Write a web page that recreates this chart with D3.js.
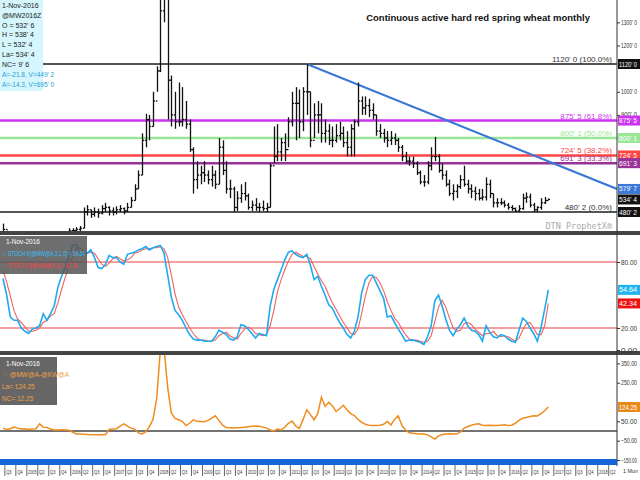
<!DOCTYPE html>
<html>
<head>
<meta charset="utf-8">
<script src="https://cdn.jsdelivr.net/npm/d3@7"></script>
<style>
  body { margin: 0; background: #fff; }
  svg { font-family: "Liberation Sans Narrow", "Liberation Sans", Arial, sans-serif; }
</style>
</head>
<body>
<div id="chart"></div>
<script>
// monthly bars, Jun 2004 .. Nov 2016
const highs = [430,400,380,370,370,375,380,
  385,380,390,380,375,375,380,380,385,390,395,410,
  410,415,420,500,510,490,500,495,510,520,505,500,
  505,510,500,520,545,600,660,820,905,900,1000,1110,
  1500,2500,2000,1070,1000,1040,1020,960,880,760,700,680,
  700,660,680,660,800,790,700,620,590,570,600,610,
  560,530,540,520,530,520,690,850,860,800,820,890,
  1000,1020,1010,1020,1120,1000,950,960,950,880,860,850,
  860,870,850,830,860,880,1040,980,980,970,950,900,
  860,840,830,830,820,800,770,740,720,720,700,660,
  640,700,760,805,730,690,660,620,600,600,640,680,
  620,600,590,580,580,630,620,560,540,540,530,520,
  510,500,510,560,565,560,520,505,540,545,538.5];
const lows = [395,360,350,345,345,355,360,
  360,355,360,350,345,350,355,355,360,365,370,380,
  385,395,395,410,465,455,460,455,470,480,465,465,
  470,480,470,480,500,530,580,640,760,790,850,1000,
  1085,1300,880,850,840,850,850,840,740,560,580,600,
  610,600,590,580,600,640,560,540,480,485,520,530,
  490,485,485,480,485,480,500,690,700,700,700,760,
  850,790,800,830,900,760,800,820,780,780,770,760,
  780,790,760,720,720,720,850,900,900,890,880,810,
  800,780,760,770,770,740,700,690,680,670,640,600,
  590,600,660,700,650,620,590,550,530,540,580,590,
  560,540,530,530,530,530,540,500,500,510,500,490,
  485,480,480,490,520,500,480,480,490,515,532.5];
const closes = [405,370,355,355,365,370,370,
  370,365,375,360,355,360,365,360,375,380,385,400,
  400,405,410,480,490,470,480,475,495,500,485,480,
  490,495,485,500,530,580,640,790,880,850,960,1090,
  1350,1800,1050,900,870,870,880,860,750,620,640,650,
  640,620,640,600,760,660,580,580,500,540,560,550,
  500,510,500,500,495,500,680,720,740,780,750,870,
  950,950,870,1000,1000,790,900,900,820,830,790,790,
  810,820,780,760,840,870,960,930,940,920,900,830,
  820,800,790,800,790,760,720,700,700,690,650,610,
  610,680,720,720,660,640,600,560,570,590,620,600,
  580,570,560,540,545,600,560,520,520,520,510,500,
  495,485,495,540,545,510,490,500,520,530,534.5];

const stochK = [65,50,30,27,27,20,17,15,19,20,22,33,27,33,40,57,67,75,86,95,
  96,88,87,88,91,84,75,74,78,86,84,84,80,78,87,88,89,91,92,94,
  91,93,94,95,88,68,48,36,32,27,20,14,10,9,9,8,8,8,12,18,
  16,14,10,9,12,23,22,19,15,11,15,14,13,40,55,64,73,82,89,90,
  87,85,84,87,77,64,67,58,50,41,38,31,25,20,14,11,17,30,52,64,
  68,68,61,54,47,30,31,25,19,14,8,9,9,8,7,5,12,22,45,50,
  40,28,18,13,19,23,29,22,18,17,14,8,22,16,12,11,14,13,10,8,
  7,18,29,26,20,15,8,20,37,54.64];
const stochD = [72,62,49,36,28,25,21,17,17,18,20,25,27,31,33,43,55,66,76,85,
  92,93,90,88,89,88,83,78,76,79,83,85,83,81,82,84,88,89,91,92,
  92,93,93,94,92,84,68,51,39,32,26,20,15,11,9,9,8,8,9,13,
  15,16,13,11,10,15,19,21,19,15,14,13,14,22,36,53,64,73,81,87,
  89,87,85,85,83,76,69,63,58,50,43,37,31,25,20,15,14,19,33,49,
  61,67,66,61,54,44,36,29,25,19,14,10,9,9,8,7,8,13,26,39,
  45,39,29,20,17,18,24,25,23,19,16,13,15,15,17,13,12,13,12,10,
  8,11,18,24,25,20,14,14,22,42.34];
// @MW@A - @KW@A spread
const spread = [15,8,12,20,15,10,12,8,10,12,
  37,20,18,10,5,5,6,5,4,-5,
  -15,-16,-17,-18,-20,-20,-20,-20,-19,8,
  10,12,25,37,25,15,10,-10,-15,-5,
  23,60,170,420,430,224,93,65,58,50,
  28,40,58,50,49,48,55,65,79,55,
  30,18,17,16,17,18,20,22,24,26,
  24,20,15,5,0,10,5,20,40,52,
  25,14,60,110,85,58,90,175,128,149,
  130,101,115,133,110,90,80,60,45,35,
  30,28,28,30,35,49,31,60,79,28,
  5,-9,-12,-14,-16,-16,-20,-30,-42,-25,
  -18,-16,-14,-16,-16,-5,15,23,30,35,
  37,30,28,30,28,28,30,32,28,30,
  40,55,66,70,75,79,78,90,105,124.25];

const levels = [1120, 875.625, 800.125, 724.625, 691.375, 480.25];
const levelPct = ["100.0%", "61.8%", "50.0%", "38.2%", "33.3%", "0.0%"];
const levelColors = ["#555", "#cc33ee", "#99e699", "#ff4444", "#993399", "#555"];
const trendStart = [83, 1120];      // month index, price
const trendEndPrice = 579.875;      // value at right edge
const priceTicks = [900, 1000, 1200, 1300];
const stochTicks = [0, 20, 80];
const spreadTicks = [-150, -50, 50, 250, 350];
const years = d3.range(2004, 2020);
const legendLines = ["1-Nov-2016", "@MW2016Z", "O = 532' 6", "H = 538' 4", "L = 532' 4", "La= 534' 4", "NC= 9' 6"];
const legendBlue = ["A=-21.8, V=449' 2", "A=-14.3, V=695' 0"];

const W = 640, H = 480, plotR = 617;
const svg = d3.select("#chart").append("svg").attr("width", W).attr("height", H);

const x = d3.scaleLinear().domain([0, 149]).range([3, 548.3]);
const yP = d3.scaleLinear().domain([480.25, 1120]).range([212, 64]);
const yS = d3.scaleLinear().domain([0, 80]).range([350, 262]);
const ySp = d3.scaleLinear().domain([0, 124.25]).range([431, 407]);
const iEnd = x.invert(plotR);

const fmt8 = v => { const w = Math.floor(v); return `${w}' ${Math.round((v - w) * 8)}`; };

const defs = svg.append("defs");
[["c1", 0, 232], ["c2", 235, 116], ["c3", 355, 103]].forEach(([id, y0, h]) => {
  defs.append("clipPath").attr("id", id).append("rect").attr("x", 0).attr("y", y0).attr("width", plotR).attr("height", h);
});

// ---------- price panel ----------
const p1 = svg.append("g").attr("clip-path", "url(#c1)");
levels.forEach((lv, k) => {
  p1.append("line").attr("x1", 0).attr("x2", plotR).attr("y1", yP(lv)).attr("y2", yP(lv))
    .attr("stroke", levelColors[k]).attr("stroke-width", k === 0 || k === 5 ? 2 : 2.5);
  p1.append("text").attr("x", 612).attr("y", yP(lv) - 2).attr("text-anchor", "end")
    .attr("font-size", 8).attr("fill", k === 0 || k === 5 ? "#333" : levelColors[k])
    .text(`${fmt8(lv)} (${levelPct[k]})`);
});
p1.append("line")
  .attr("x1", x(trendStart[0])).attr("y1", yP(trendStart[1]))
  .attr("x2", x(iEnd)).attr("y2", yP(trendEndPrice))
  .attr("stroke", "#3a78d8").attr("stroke-width", 2);

const bars = p1.append("g").attr("stroke", "#111").attr("stroke-width", 1.3);
highs.forEach((h, i) => {
  const cx = Math.round(x(i)) + 0.5;
  bars.append("line").attr("x1", cx).attr("x2", cx).attr("y1", yP(h)).attr("y2", yP(lows[i]));
  if (i > 0) bars.append("line").attr("x1", cx - 1.6).attr("x2", cx).attr("y1", yP(closes[i - 1])).attr("y2", yP(closes[i - 1]));
  bars.append("line").attr("x1", cx).attr("x2", cx + 1.6).attr("y1", yP(closes[i])).attr("y2", yP(closes[i]));
});

svg.append("text").attr("x", 590).attr("y", 21).attr("text-anchor", "end")
  .attr("font-size", 9.5).attr("font-weight", "bold").attr("fill", "#111")
  .text("Continuous active hard red spring wheat monthly");
svg.append("text").attr("x", 612).attr("y", 229).attr("text-anchor", "end")
  .attr("font-size", 8.5).attr("fill", "#aaa").attr("font-family", "DejaVu Sans Mono")
  .text("DTN ProphetX\u00ae");

// legend box
svg.append("rect").attr("x", 0).attr("y", 0).attr("width", 43).attr("height", 91).attr("fill", "#d4f6fc");
legendLines.forEach((t, k) => svg.append("text").attr("x", 2).attr("y", 8 + k * 9.8)
  .attr("font-size", 7).attr("fill", "#222").text(t));
legendBlue.forEach((t, k) => svg.append("text").attr("x", 2).attr("y", 77 + k * 10)
  .attr("font-size", 6.5).attr("fill", "#2a9fd8").text(t));

// ---------- stochastic panel ----------
const p2 = svg.append("g").attr("clip-path", "url(#c2)");
[20, 80].forEach(v => p2.append("line").attr("x1", 0).attr("x2", plotR)
  .attr("y1", yS(v)).attr("y2", yS(v)).attr("stroke", "#f08080").attr("stroke-width", 1.5));
const lineS = arr => d3.line().x((d, i) => x(i)).y(d => yS(d))(arr);
p2.append("path").attr("d", lineS(stochD)).attr("fill", "none").attr("stroke", "#f06060").attr("stroke-width", 1.1);
p2.append("path").attr("d", lineS(stochK)).attr("fill", "none").attr("stroke", "#1eaaf0").attr("stroke-width", 1.6);
svg.append("rect").attr("x", 0).attr("y", 236).attr("width", 87).attr("height", 38).attr("fill", "#555").attr("opacity", 0.85);
svg.append("text").attr("x", 6).attr("y", 244).attr("font-size", 6.5).attr("fill", "#fff").text("1-Nov-2016");
svg.append("text").attr("x", 2).attr("y", 256).attr("font-size", 6.5).attr("fill", "#33c0ff")
  .attr("textLength", 83).attr("lengthAdjust", "spacingAndGlyphs").text("\u2662 STOCH K[@MW@A,3,1,0] = 54.64");
svg.append("text").attr("x", 2).attr("y", 268).attr("font-size", 6.5).attr("fill", "#ff4040")
  .attr("textLength", 76).attr("lengthAdjust", "spacingAndGlyphs").text("\u2662 STOCH D[@MW@A,3] = 42.34");

// ---------- spread panel ----------
const p3 = svg.append("g").attr("clip-path", "url(#c3)");
p3.append("line").attr("x1", 0).attr("x2", plotR).attr("y1", ySp(0)).attr("y2", ySp(0)).attr("stroke", "#444").attr("stroke-width", 1.5);
p3.append("path").attr("d", d3.line().x((d, i) => x(i)).y(d => ySp(d))(spread))
  .attr("fill", "none").attr("stroke", "#f08c1e").attr("stroke-width", 1.5);
svg.append("rect").attr("x", 0).attr("y", 357).attr("width", 57).attr("height", 48).attr("fill", "#666");
svg.append("text").attr("x", 6).attr("y", 366).attr("font-size", 6.5).attr("fill", "#fff").text("1-Nov-2016");
svg.append("text").attr("x", 2).attr("y", 377).attr("font-size", 6.5).attr("fill", "#f0a040").text("\u2662 @MW@A-@KW@A");
svg.append("text").attr("x", 2).attr("y", 389).attr("font-size", 6.5).attr("fill", "#f0a040").text("La= 124.25");
svg.append("text").attr("x", 2).attr("y", 401).attr("font-size", 6.5).attr("fill", "#f0a040").text("NC= 12.25");

// ---------- separators & right axis ----------
svg.append("rect").attr("x", 0).attr("y", 231).attr("width", W).attr("height", 4).attr("fill", "#444");
svg.append("rect").attr("x", 0).attr("y", 351).attr("width", W).attr("height", 4).attr("fill", "#444");
svg.append("line").attr("x1", plotR).attr("x2", plotR).attr("y1", 0).attr("y2", 466).attr("stroke", "#333");

function axisR(scale, ticks, fmt) {
  const g = svg.append("g").attr("transform", `translate(${plotR},0)`);
  g.call(d3.axisRight(scale).tickValues(ticks).tickFormat(fmt).tickSize(3).tickPadding(1));
  g.select(".domain").remove();
  g.selectAll("text").attr("font-size", 6.5).attr("fill", "#333")
    .attr("textLength", 16).attr("lengthAdjust", "spacingAndGlyphs");
  g.selectAll("line").attr("stroke", "#333");
}
axisR(yP, priceTicks, fmt8);
axisR(yS, stochTicks, d3.format(".2f"));
axisR(ySp, spreadTicks, d3.format(".2f"));

function tag(y, label, bg) {
  svg.append("rect").attr("x", plotR + 1).attr("y", y - 5).attr("width", W - plotR - 1).attr("height", 10).attr("fill", bg);
  svg.append("text").attr("x", plotR + 2).attr("y", y + 2.5).attr("font-size", 6.5).attr("fill", "#fff")
    .attr("textLength", W - plotR - 5).attr("lengthAdjust", "spacingAndGlyphs").text(label);
}
levels.forEach((lv, k) => tag(yP(lv), fmt8(lv), k === 0 || k === 5 ? "#111" : levelColors[k]));
tag(yP(trendEndPrice), fmt8(trendEndPrice), "#3a78d8");
tag(yP(closes[149]), fmt8(closes[149]), "#111");
tag(yS(stochK[149]), "54.64", "#22b4ee");
tag(yS(stochD[149]), "42.34", "#ee1111");
tag(ySp(spread[149]), "124.25", "#e88a1a");

// ---------- time axis ----------
svg.append("rect").attr("x", 0).attr("y", 459).attr("width", plotR).attr("height", 6).attr("fill", "#1565d8");
const quarters = [];
years.forEach(yr => [0, 3, 6, 9].forEach(m => {
  const i = (yr - 2004) * 12 + m - 5;
  if (i >= 1 && x(i) < plotR - 6) quarters.push({ i, label: m === 0 ? String(yr) : "Q" + (m / 3 + 1) });
}));
const xa = svg.append("g");
quarters.forEach(q => {
  const tx = x(q.i) - 1.8;
  xa.append("line").attr("x1", tx).attr("x2", tx).attr("y1", 465).attr("y2", 476).attr("stroke", "#666");
  xa.append("text").attr("x", tx + 1.3).attr("y", 474).attr("font-size", 5.5).attr("fill", "#333")
    .attr("textLength", q.label.length > 2 ? 8.5 : 5.5).attr("lengthAdjust", "spacingAndGlyphs").text(q.label);
});
svg.append("text").attr("x", 623).attr("y", 473).attr("font-size", 6).attr("fill", "#333")
  .attr("textLength", 15).attr("lengthAdjust", "spacingAndGlyphs").text("1 Mon");
</script>
</body>
</html>
